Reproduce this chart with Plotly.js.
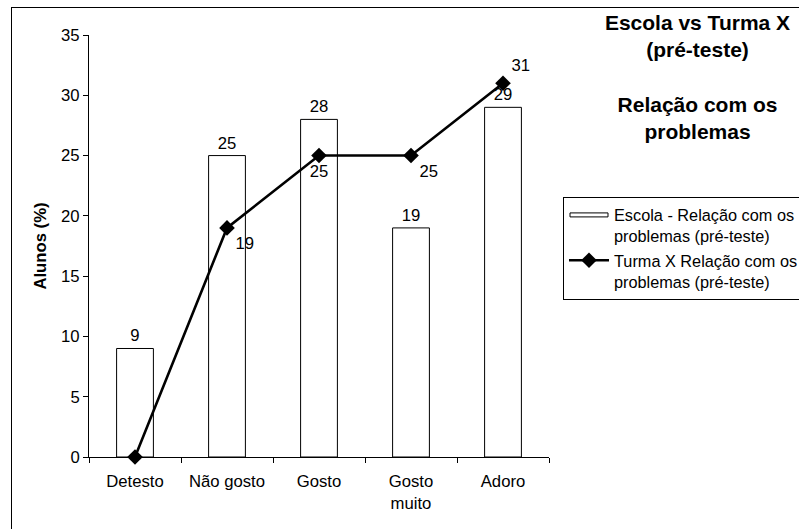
<!DOCTYPE html>
<html>
<head>
<meta charset="utf-8">
<script src="https://cdn.plot.ly/plotly-3.0.1.min.js"></script>
<style>
  html, body { margin: 0; padding: 0; background: #ffffff; overflow: hidden; }
  #frame {
    position: absolute; left: 11px; top: 7px;
    width: 900px; height: 600px;
    border: 1px solid #000000;
  }
  #chart { position: absolute; left: 0; top: 0; width: 799px; height: 529px; }
</style>
</head>
<body>
<div id="frame"></div>
<div id="chart"></div>
<script>
// Categories (answers) and percentages of pupils
const categories = ['Detesto', 'Não gosto', 'Gosto', 'Gosto<br>muito', 'Adoro'];
const escolaValues = [9, 25, 28, 19, 29];
const turmaValues = [0, 19, 25, 25, 31];

const escolaName = 'Escola - Relação com os<br>problemas (pré-teste)';
const turmaName = 'Turma X Relação com os<br>problemas (pré-teste)';
const chartTitle = 'Escola vs Turma X<br>(pré-teste)<br><br>Relação com os<br>problemas';
const yTitle = 'Alunos (%)';

const FONT = 'Liberation Sans, Arial, sans-serif';
const FS = 16.7;

// where each point label of the line sits relative to its marker
const turmaLabelPos = ['top center', 'bottom right', 'bottom center', 'bottom right', 'top right'];

const bars = {
  type: 'bar',
  name: escolaName,
  x: categories,
  y: escolaValues,
  width: 0.4,
  marker: { color: '#ffffff', line: { color: '#000000', width: 1 } },
  text: escolaValues.map(String),
  textposition: 'outside',
  textfont: { family: FONT, size: FS, color: '#000000' },
  cliponaxis: false
};

const line = {
  type: 'scatter',
  mode: 'lines+markers+text',
  name: turmaName,
  x: categories,
  y: turmaValues,
  line: { color: '#000000', width: 2.6 },
  marker: { symbol: 'diamond', size: 12, color: '#000000' },
  text: turmaValues.map(v => (v === 0 ? '' : String(v))),
  textposition: turmaLabelPos,
  textfont: { family: FONT, size: FS, color: '#000000' },
  cliponaxis: false
};

const boundaries = categories.map((_, i) => i + 0.5);

const layout = {
  width: 799,
  height: 529,
  paper_bgcolor: 'rgba(0,0,0,0)',
  plot_bgcolor: 'rgba(0,0,0,0)',
  margin: { l: 89.3, r: 249.7, t: 35, b: 72.3, pad: 0, autoexpand: false },
  font: { family: FONT, size: FS, color: '#000000' },
  showlegend: true,
  title: {
    text: chartTitle,
    font: { family: FONT, size: 21, color: '#000000', weight: 'bold' },
    xref: 'container', yref: 'container',
    x: 697.5 / 799, xanchor: 'center',
    y: 1 - 30 / 529, yanchor: 'top'
  },
  xaxis: {
    type: 'category',
    range: [-0.5, 4.5],
    showline: true, linecolor: '#000000', linewidth: 1,
    ticks: 'outside', ticklen: 5, tickcolor: '#000000', tickwidth: 1,
    tickson: 'boundaries',
    ticklabelstandoff: 9,
    showgrid: false, zeroline: false,
    tickfont: { family: FONT, size: FS, color: '#000000' },
    fixedrange: true
  },
  yaxis: {
    range: [0, 35],
    dtick: 5,
    showline: true, linecolor: '#000000', linewidth: 1,
    ticks: 'outside', ticklen: 5, tickcolor: '#000000', tickwidth: 1,
    showgrid: false, zeroline: false,
    tickfont: { family: FONT, size: FS, color: '#000000' },
    title: {
      text: yTitle,
      font: { family: FONT, size: FS, color: '#000000', weight: 'bold' },
      standoff: 10
    },
    fixedrange: true
  },
  // companion axes that draw the inner half of each crossing tick
  xaxis2: {
    overlaying: 'x', anchor: 'y', side: 'bottom',
    range: [-0.5, 4.5],
    tickmode: 'array', tickvals: boundaries,
    ticks: 'inside', ticklen: 5, tickcolor: '#000000', tickwidth: 1,
    showticklabels: false, showline: false, showgrid: false, zeroline: false
  },
  yaxis2: {
    overlaying: 'y', anchor: 'x', side: 'left',
    range: [0, 35], dtick: 5,
    ticks: 'inside', ticklen: 5, tickcolor: '#000000', tickwidth: 1,
    showticklabels: false, showline: false, showgrid: false, zeroline: false
  },
  legend: {
    x: (563.3 - 89.3) / 460, xanchor: 'left',
    y: (456.7 - 196.7) / 421.7, yanchor: 'top',
    bgcolor: '#ffffff',
    bordercolor: '#000000', borderwidth: 1,
    font: { family: FONT, size: 16.3, color: '#000000' },
    itemwidth: 40,
    valign: 'top',
    tracegroupgap: 2
  }
};

// long, thin legend key for the bar series
function widenBarKey(gd) {
  const items = gd.querySelectorAll('.legend g.traces');
  if (!items.length) return;
  items[0].querySelectorAll('g.legendpoints path').forEach(p => {
    p.setAttribute('d', 'M19,2H-19V-2H19Z');
  });
}

Plotly.newPlot('chart', [bars, line], layout, { displayModeBar: false, staticPlot: true }).then(gd => {
  widenBarKey(gd);
  gd.on('plotly_afterplot', () => widenBarKey(gd));
});
</script>
</body>
</html>
